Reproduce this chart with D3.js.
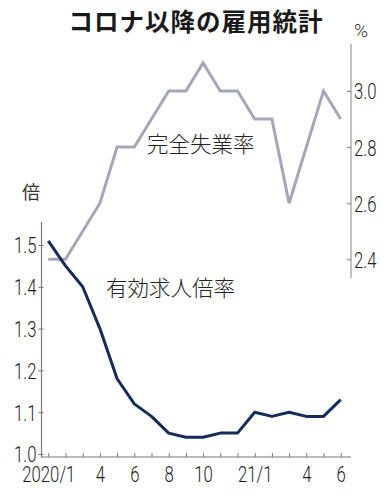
<!DOCTYPE html>
<html><head><meta charset="utf-8">
<script src="https://cdn.jsdelivr.net/npm/d3@7"></script>
<style>
body{margin:0;background:#fff;}
svg{display:block;}
</style></head>
<body>
<svg id="c" width="391" height="496"></svg>
<script>
const months = ["2020/1","2","3","4","5","6","7","8","9","10","11","12","21/1","2","3","4","5","6"];
const monthTickLabels = {0:"2020/1",3:"4",5:"6",7:"8",9:"10",12:"21/1",15:"4",17:"6"};
const jobsRatio = [1.51,1.45,1.40,1.30,1.18,1.12,1.09,1.05,1.04,1.04,1.05,1.05,1.10,1.09,1.10,1.09,1.09,1.13];
const unemployment = [2.4,2.4,2.5,2.6,2.8,2.8,2.9,3.0,3.0,3.1,3.0,3.0,2.9,2.9,2.6,2.8,3.0,2.9];
const leftTicks = [1.0,1.1,1.2,1.3,1.4,1.5];
const rightTicks = [2.4,2.6,2.8,3.0];

const numFont = "Roboto,'Liberation Sans',sans-serif";
const jpFont = "'Noto Sans CJK JP','Noto Sans',sans-serif";
const SX = 0.76;   // horizontal condensing of numeric labels
const svg = d3.select("#c");

const x = d3.scaleLinear().domain([0, months.length-1]).range([48.3, 340.7]);
const yL = d3.scaleLinear().domain([1.0, 1.5]).range([454, 245]);
const yR = d3.scaleLinear().domain([2.4, 3.0]).range([259.3, 91]);

const axisCol = "#777";

function numStyle(sel, size){
  sel.attr("font-family", numFont).attr("font-weight", 300).attr("font-size", size).attr("fill","#1e1e1e");
}

// Title
svg.append("text").attr("x", 196).attr("y", 31).attr("text-anchor","middle")
  .attr("font-family", jpFont).attr("font-weight","bold").attr("font-size", 24.5)
  .attr("letter-spacing", 1).attr("fill","#1a1a1a").text("コロナ以降の雇用統計");

// unit labels
svg.append("text").attr("x", 361).attr("y", 37).attr("text-anchor","middle")
  .attr("font-family", numFont).attr("font-weight",300).attr("font-size", 19).attr("fill","#333").text("%");
svg.append("text").attr("x", 31).attr("y", 199).attr("text-anchor","middle")
  .attr("font-family", jpFont).attr("font-size", 18).attr("fill","#333").text("倍");

// Left axis
const gL = svg.append("g").attr("transform","translate(41.5,0)")
  .call(d3.axisRight(yL).tickValues(leftTicks).tickSize(2).tickFormat(d3.format(".1f")));
gL.select(".domain").remove();
gL.selectAll(".tick line").attr("x1", -3).attr("stroke", axisCol);
gL.selectAll(".tick text").attr("x", -5/SX).attr("text-anchor","end").attr("dy","0.36em")
  .attr("transform", `scale(${SX},1)`).call(numStyle, 22);
gL.append("line").attr("x1",0).attr("x2",0).attr("y1", 222).attr("y2", 457.5).attr("stroke", axisCol).attr("stroke-width",1.2);

// Right axis
const gR = svg.append("g").attr("transform","translate(351,0)")
  .call(d3.axisLeft(yR).tickValues(rightTicks).tickSize(4).tickFormat(d3.format(".1f")));
gR.select(".domain").remove();
gR.selectAll(".tick line").attr("stroke", axisCol);
gR.selectAll(".tick text").attr("x", 3/SX).attr("text-anchor","start").attr("dy","0.36em")
  .attr("transform", `scale(${SX},1)`).call(numStyle, 22);
gR.append("line").attr("x1",0).attr("x2",0).attr("y1", 44).attr("y2", 278).attr("stroke", "#999").attr("stroke-width",1.2);

// Bottom axis
const gB = svg.append("g").attr("transform","translate(0,457)")
  .call(d3.axisTop(x).tickValues(d3.range(months.length)).tickSize(4)
    .tickFormat(i => monthTickLabels[i] || ""));
gB.select(".domain").remove();
gB.selectAll(".tick line").attr("stroke", axisCol);
gB.selectAll(".tick text").attr("y", 25).attr("dy", 0).attr("text-anchor","middle")
  .attr("transform", `scale(${SX},1)`).call(numStyle, 22);
gB.append("line").attr("x1", 41).attr("x2", 351).attr("y1", 0).attr("y2", 0).attr("stroke", axisCol).attr("stroke-width",1.2);

// Lines
const lineU = d3.line().x((d,i)=>x(i)).y(d=>yR(d));
const lineJ = d3.line().x((d,i)=>x(i)).y(d=>yL(d));
svg.append("path").datum(unemployment).attr("d", lineU)
  .attr("fill","none").attr("stroke","#a4a7b8").attr("stroke-width",3).attr("stroke-linejoin","miter");
svg.append("path").datum(jobsRatio).attr("d", lineJ)
  .attr("fill","none").attr("stroke","#152b58").attr("stroke-width",3).attr("stroke-linejoin","round");

// Series labels
svg.append("text").attr("x", 147).attr("y", 152).attr("font-family", jpFont).attr("font-weight",300)
  .attr("font-size", 21.5).attr("fill","#222").text("完全失業率");
svg.append("text").attr("x", 106).attr("y", 296).attr("font-family", jpFont).attr("font-weight",300)
  .attr("font-size", 21.5).attr("fill","#222").text("有効求人倍率");
</script>
</body></html>
